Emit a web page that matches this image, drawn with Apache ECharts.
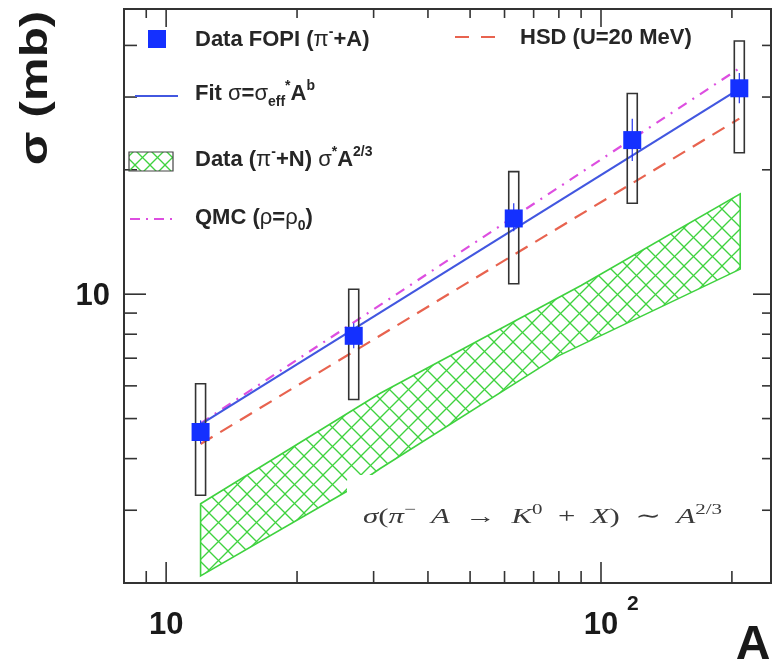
<!DOCTYPE html>
<html><head><meta charset="utf-8">
<script src="https://cdn.jsdelivr.net/npm/echarts@6/dist/echarts.min.js"></script>
<style>html,body{margin:0;padding:0;background:#fff}#c{width:773px;height:667px}</style>
</head><body><div id="c"></div>
<script>
// ---- data ----
const targetA = [12, 27, 63, 118, 208];
const sigmaFOPI = [4.64, 7.93, 15.25, 23.6, 31.5];
const statLow = [4.35, 7.4, 14.2, 21.0, 29.0];
const statHigh = [4.95, 8.5, 16.6, 26.6, 34.3];
const sysLow = [3.26, 5.56, 10.6, 16.6, 22.0];
const sysHigh = [6.07, 10.28, 19.8, 30.6, 41.0];
const fitA = [12, 208];
const fitSigma = [4.84, 31.4];
const qmcA = [12, 208];
const qmcSigma = [4.87, 35.2];
const hsdA = [12, 208];
const hsdSigma = [4.34, 26.6];
const bandUpperA = [12, 31, 90, 209];
const bandUpper = [3.11, 5.75, 10.5, 17.5];
const bandLowerA = [12, 26, 31, 80, 209];
const bandLower = [2.08, 3.33, 3.78, 7.10, 11.5];
const xMajorTicks = [10, 100];
const xMinorTicks = [9, 20, 30, 40, 50, 60, 70, 80, 90, 200];
const yMajorTicks = [10];
const yMinorTicks = [3, 4, 5, 6, 7, 8, 9, 20, 30, 40];
const xTickLabels = ['10', '10'];
const xTickExps = ['', '2'];
const yTickLabels = ['10'];
const xRange = [8, 246];
const yRange = [2, 49];

const SANS = '"Liberation Sans", Arial, sans-serif';
const SERIF = '"Liberation Serif", "DejaVu Serif", serif';
const AX = '#333';
const GREEN = '#3fd23f';

function hatchPattern(P) {
  const c = document.createElement('canvas');
  c.width = P; c.height = P;
  const g = c.getContext('2d');
  g.strokeStyle = GREEN; g.lineWidth = 1.3;
  for (let k = -1; k <= 1; k++) {
    g.beginPath(); g.moveTo(-2, -2 + k * P); g.lineTo(P + 2, P + 2 + k * P); g.stroke();
    g.beginPath(); g.moveTo(-2, P + 2 + k * P); g.lineTo(P + 2, -2 + k * P); g.stroke();
  }
  return { image: c, repeat: 'repeat' };
}
const bandFill = hatchPattern(19);
const legendFill = hatchPattern(15);

function xTickRender(major) {
  return function (params, api) {
    const cs = params.coordSys;
    const px = api.coord([api.value(0), 10])[0];
    const Lb = major ? 21 : 12, Lt = major ? 18 : 9;
    const b = cs.y + cs.height, t = cs.y;
    return { type: 'group', children: [
      { type: 'line', shape: { x1: px, y1: b, x2: px, y2: b - Lb }, style: { stroke: AX, lineWidth: 1.6 } },
      { type: 'line', shape: { x1: px, y1: t, x2: px, y2: t + Lt }, style: { stroke: AX, lineWidth: 1.6 } }
    ] };
  };
}
function yTickRender(major) {
  return function (params, api) {
    const cs = params.coordSys;
    const py = api.coord([10, api.value(1)])[1];
    const Ll = major ? 22 : 13, Lr = major ? 18 : 9;
    const l = cs.x, r = cs.x + cs.width;
    return { type: 'group', children: [
      { type: 'line', shape: { x1: l, y1: py, x2: l + Ll, y2: py }, style: { stroke: AX, lineWidth: 1.6 } },
      { type: 'line', shape: { x1: r, y1: py, x2: r - Lr, y2: py }, style: { stroke: AX, lineWidth: 1.6 } }
    ] };
  };
}

const richLegend = {
  b: { fontFamily: SANS, fontWeight: 'bold', fontSize: 22, lineHeight: 30, fill: '#262626' },
  g: { fontFamily: SANS, fontWeight: 'normal', fontSize: 22, lineHeight: 30, fill: '#262626' },
  sp: { fontFamily: SANS, fontWeight: 'bold', fontSize: 14, lineHeight: 16, verticalAlign: 'top', fill: '#262626' },
  sb: { fontFamily: SANS, fontWeight: 'bold', fontSize: 14, lineHeight: 16, verticalAlign: 'bottom', fill: '#262626' }
};
function legendText(x, y, txt) {
  return { type: 'text', x: x, y: y, z: 20,
    style: { text: txt, rich: richLegend, align: 'left', verticalAlign: 'middle' } };
}

const chart = echarts.init(document.getElementById('c'));
chart.setOption({
  animation: false,
  backgroundColor: '#fff',
  grid: { left: 124, top: 9, width: 647, height: 574, show: true, borderColor: AX, borderWidth: 2, backgroundColor: 'transparent' },
  xAxis: { type: 'log', logBase: 10, min: xRange[0], max: xRange[1],
    axisLine: { show: false }, axisTick: { show: false }, axisLabel: { show: false }, splitLine: { show: false } },
  yAxis: { type: 'log', logBase: 10, min: yRange[0], max: yRange[1],
    axisLine: { show: false }, axisTick: { show: false }, axisLabel: { show: false }, splitLine: { show: false } },
  series: [
    { type: 'custom', name: 'band', z: 1, data: [[bandUpperA[0], bandUpper[0]]],
      renderItem: function (params, api) {
        const pts = [];
        bandUpperA.forEach((a, i) => pts.push(api.coord([a, bandUpper[i]])));
        for (let i = bandLowerA.length - 1; i >= 0; i--) pts.push(api.coord([bandLowerA[i], bandLower[i]]));
        return { type: 'polygon', shape: { points: pts }, style: { fill: bandFill, stroke: GREEN, lineWidth: 1.6 } };
      } },
    { type: 'custom', name: 'xMajor', z: 5, data: xMajorTicks.map(v => [v, 10]), renderItem: xTickRender(true) },
    { type: 'custom', name: 'xMinor', z: 5, data: xMinorTicks.map(v => [v, 10]), renderItem: xTickRender(false) },
    { type: 'custom', name: 'yMajor', z: 5, data: yMajorTicks.map(v => [10, v]), renderItem: yTickRender(true) },
    { type: 'custom', name: 'yMinor', z: 5, data: yMinorTicks.map(v => [10, v]), renderItem: yTickRender(false) },
    { type: 'custom', name: 'xLabels', z: 5, clip: false, data: xMajorTicks.map(v => [v, 10]),
      renderItem: function (params, api) {
        const cs = params.coordSys;
        const px = api.coord([api.value(0), 10])[0];
        const i = params.dataIndex;
        const by = cs.y + cs.height + 42;
        const ch = [{ type: 'text', x: px, y: by, style: { text: xTickLabels[i], font: 'bold 31px ' + SANS, fill: '#1a1a1a', align: 'center', verticalAlign: 'middle' } }];
        if (xTickExps[i]) ch.push({ type: 'text', x: px + 26, y: by - 21, style: { text: xTickExps[i], font: 'bold 21px ' + SANS, fill: '#1a1a1a', align: 'left', verticalAlign: 'middle' } });
        return { type: 'group', children: ch };
      } },
    { type: 'custom', name: 'yLabels', z: 5, clip: false, data: yMajorTicks.map(v => [10, v]),
      renderItem: function (params, api) {
        const cs = params.coordSys;
        const py = api.coord([10, api.value(1)])[1];
        return { type: 'text', x: cs.x - 14, y: py + 2, style: { text: yTickLabels[params.dataIndex], font: 'bold 31px ' + SANS, fill: '#1a1a1a', align: 'right', verticalAlign: 'middle' } };
      } },
    { type: 'line', name: 'HSD', z: 3, showSymbol: false, symbol: 'none', data: hsdA.map((a, i) => [a, hsdSigma[i]]),
      lineStyle: { color: '#e8634f', width: 2.2, type: [14, 9] } },
    { type: 'line', name: 'QMC', z: 3, showSymbol: false, symbol: 'none', data: qmcA.map((a, i) => [a, qmcSigma[i]]),
      lineStyle: { color: '#dd4ee0', width: 2.2, type: [10, 7, 2, 7] } },
    { type: 'line', name: 'Fit', z: 3, showSymbol: false, symbol: 'none', data: fitA.map((a, i) => [a, fitSigma[i]]),
      lineStyle: { color: '#4257e0', width: 2.2 } },
    { type: 'custom', name: 'sys', z: 4, data: targetA.map((a, i) => [a, sysLow[i], sysHigh[i]]),
      encode: { x: 0, y: [1, 2] },
      renderItem: function (params, api) {
        const lo = api.coord([api.value(0), api.value(1)]);
        const hi = api.coord([api.value(0), api.value(2)]);
        return { type: 'rect', shape: { x: hi[0] - 5, y: hi[1], width: 10, height: lo[1] - hi[1] },
          style: { fill: 'none', stroke: '#333', lineWidth: 1.6 } };
      } },
    { type: 'custom', name: 'stat', z: 4, data: targetA.map((a, i) => [a, statLow[i], statHigh[i]]),
      encode: { x: 0, y: [1, 2] },
      renderItem: function (params, api) {
        const lo = api.coord([api.value(0), api.value(1)]);
        const hi = api.coord([api.value(0), api.value(2)]);
        return { type: 'line', shape: { x1: hi[0], y1: hi[1], x2: lo[0], y2: lo[1] }, style: { stroke: '#2233ee', lineWidth: 1.2 } };
      } },
    { type: 'scatter', name: 'Data FOPI', z: 6, symbol: 'rect', symbolSize: 18,
      data: targetA.map((a, i) => [a, sigmaFOPI[i]]), itemStyle: { color: '#1430ff', opacity: 1 } }
  ],
  graphic: [
    // axis titles
    { type: 'text', x: 37, y: 88, rotation: Math.PI / 2, scaleX: 1.3, z: 20,
      style: { text: 'σ (mb)', font: 'bold 38px ' + SANS, fill: '#1a1a1a', align: 'center', verticalAlign: 'middle' } },
    { type: 'text', x: 753, y: 646, z: 20,
      style: { text: 'A', font: 'bold 48px ' + SANS, fill: '#1a1a1a', align: 'center', verticalAlign: 'middle' } },
    // legend
    { type: 'rect', z: 20, shape: { x: 148, y: 30, width: 18, height: 18 }, style: { fill: '#1430ff' } },
    legendText(195, 40, '{b|Data FOPI (}{g|π}{sp|-}{b|+A)}'),
    { type: 'line', z: 20, shape: { x1: 135, y1: 96, x2: 178, y2: 96 }, style: { stroke: '#4257e0', lineWidth: 2 } },
    legendText(195, 94, '{b|Fit }{g|σ}{b|=}{g|σ}{sb|eff}{sp|*}{b|A}{sp|b}'),
    { type: 'rect', z: 20, shape: { x: 129, y: 152, width: 44, height: 19 }, style: { fill: legendFill, stroke: '#444', lineWidth: 1.2 } },
    legendText(195, 160, '{b|Data (}{g|π}{sp|-}{b|+N) }{g|σ}{sp|*}{b|A}{sp|2/3}'),
    { type: 'line', z: 20, shape: { x1: 130, y1: 219, x2: 173, y2: 219 }, style: { stroke: '#dd4ee0', lineWidth: 2, lineDash: [10, 6, 2, 6] } },
    legendText(195, 218, '{b|QMC (}{g|ρ}{b|=}{g|ρ}{sb|0}{b|)}'),
    { type: 'line', z: 20, shape: { x1: 455, y1: 37, x2: 500, y2: 37 }, style: { stroke: '#e8634f', lineWidth: 2.2, lineDash: [14, 12] } },
    legendText(520, 38, '{b|HSD (U=20 MeV)}'),
    // annotation with white box
    { type: 'rect', z: 10, shape: { x: 347, y: 475, width: 388, height: 85, r: 6 }, style: { fill: '#fff' } },
    { type: 'text', x: 363, y: 517, scaleX: 1.4, z: 11,
      style: { align: 'left', verticalAlign: 'middle',
        text: '{i|σ}{r|(}{i|π}{s|−}{i|  A}{r|  →  }{i|K}{s|0}{r|  +  }{i|X}{r|)  ∼  }{i|A}{s|2/3}',
        rich: {
          i: { fontFamily: SERIF, fontStyle: 'italic', fontSize: 22, lineHeight: 28, fill: '#3a3a3a' },
          r: { fontFamily: SERIF, fontSize: 22, lineHeight: 28, fill: '#3a3a3a' },
          s: { fontFamily: SERIF, fontSize: 15, lineHeight: 17, verticalAlign: 'top', fill: '#3a3a3a' }
        } } }
  ]
});
</script>
</body></html>
